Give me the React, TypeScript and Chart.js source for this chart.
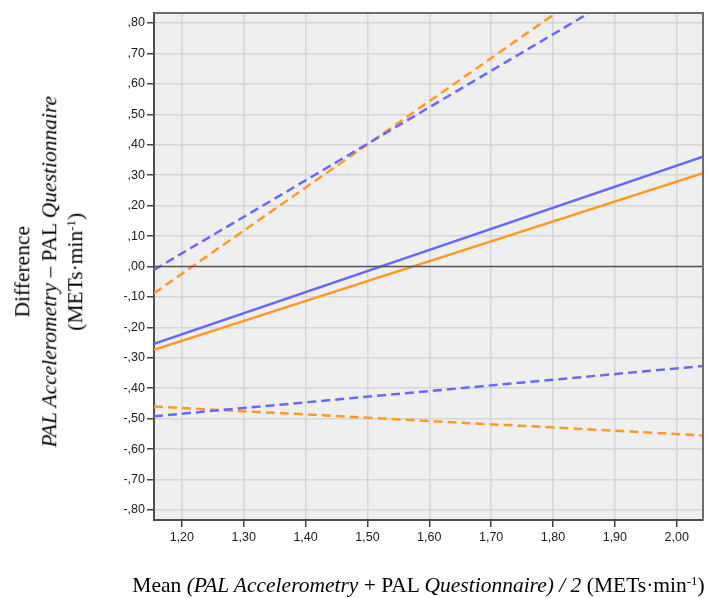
import React, { useEffect, useRef } from "react";
import { Chart, registerables } from "chart.js";

Chart.register(...registerables);

// Axis ranges and tick positions
const xRange = [1.155, 2.0425];
const yRange = [-0.833, 0.833];
const xTicks = [1.2, 1.3, 1.4, 1.5, 1.6, 1.7, 1.8, 1.9, 2.0];
const yTicks = [-0.8, -0.7, -0.6, -0.5, -0.4, -0.3, -0.2, -0.1, 0, 0.1, 0.2, 0.3, 0.4, 0.5, 0.6, 0.7, 0.8];

// Regression lines are evaluated at both ends of the x range
const lineX = [1.155, 2.0425];
const zeroLine = [0, 0];
const blueMean = [-0.254, 0.361];
const blueUpper = [-0.011, 1.054];
const blueLower = [-0.492, -0.327];
const orangeMean = [-0.274, 0.307];
const orangeUpper = [-0.088, 1.17];
const orangeLower = [-0.46, -0.555];

const BLUE = "#6868ff";
const ORANGE = "#ff9a26";
const DASH = [9, 5];

// "0,80" -> ",80", "-0,10" -> "-,10"
const fmt = (v: number) => {
  const s = Math.abs(v).toFixed(2).replace(".", ",");
  const t = s.startsWith("0") ? s.slice(1) : s;
  return (v < -1e-9 ? "-" : "") + t;
};

const pts = (ys: number[]) => ys.map((y, i) => ({ x: lineX[i], y }));

const plotFrame = {
  id: "plotFrame",
  beforeDraw(chart: any) {
    const { ctx, chartArea: a } = chart;
    ctx.save();
    ctx.fillStyle = "#efefef";
    ctx.fillRect(a.left, a.top, a.right - a.left, a.bottom - a.top);
    ctx.restore();
  },
  afterDraw(chart: any) {
    const { ctx, chartArea: a } = chart;
    ctx.save();
    ctx.strokeStyle = "#6e6e6e";
    ctx.lineWidth = 2;
    ctx.beginPath();
    ctx.moveTo(a.left, a.top);
    ctx.lineTo(a.right, a.top);
    ctx.lineTo(a.right, a.bottom);
    ctx.stroke();
    ctx.restore();
  },
};

const tickFont = { family: '"Liberation Sans", Arial, sans-serif', size: 12.5 };
const serif = '"Liberation Serif", "Times New Roman", serif';

export default function App() {
  const ref = useRef<HTMLCanvasElement | null>(null);

  useEffect(() => {
    if (!ref.current) return;
    const mk = (data: number[], color: string, dashed: boolean, width = 2.5) => ({
      data: pts(data),
      borderColor: color,
      borderWidth: width,
      borderDash: dashed ? DASH : [],
      pointRadius: 0,
      fill: false,
      tension: 0,
    });
    const chart = new Chart(ref.current, {
      type: "line",
      data: {
        datasets: [
          mk(zeroLine, "#555555", false, 1.5),
          mk(blueUpper, BLUE, true),
          mk(orangeUpper, ORANGE, true),
          mk(blueLower, BLUE, true),
          mk(orangeLower, ORANGE, true),
          mk(blueMean, BLUE, false),
          mk(orangeMean, ORANGE, false),
        ] as any,
      },
      options: {
        responsive: false,
        devicePixelRatio: 1,
        animation: false,
        layout: { padding: { left: 0, top: 13, right: 6, bottom: 0 } },
        plugins: { legend: { display: false }, tooltip: { enabled: false } },
        scales: {
          x: {
            type: "linear",
            min: xRange[0],
            max: xRange[1],
            afterBuildTicks: (s: any) => {
              s.ticks = xTicks.map((value) => ({ value }));
            },
            afterFit: (s: any) => {
              s.height = 78;
            },
            ticks: {
              callback: (v: any) => fmt(Number(v)),
              font: tickFont,
              color: "#1a1a1a",
              padding: 3,
              maxRotation: 0,
              autoSkip: false,
            },
            grid: {
              color: "#d6d6d6",
              lineWidth: 1.5,
              tickLength: 7,
              tickColor: "#444",
              tickWidth: 1.5,
            },
            border: { color: "#4f4f4f", width: 2 },
          },
          y: {
            type: "linear",
            min: yRange[0],
            max: yRange[1],
            afterBuildTicks: (s: any) => {
              s.ticks = yTicks.map((value) => ({ value }));
            },
            afterFit: (s: any) => {
              s.width = 154;
            },
            ticks: {
              callback: (v: any) => fmt(Number(v)),
              font: tickFont,
              color: "#1a1a1a",
              padding: 2,
              autoSkip: false,
            },
            grid: {
              color: "#d6d6d6",
              lineWidth: 1.5,
              tickLength: 7,
              tickColor: "#444",
              tickWidth: 1.5,
            },
            border: { color: "#4f4f4f", width: 2 },
          },
        },
      } as any,
      plugins: [plotFrame],
    });
    return () => chart.destroy();
  }, []);

  const sup = (
    <sup style={{ fontSize: "0.6em", lineHeight: 0, verticalAlign: "0.55em" }}>-1</sup>
  );

  return (
    <div
      style={{
        position: "fixed",
        left: 0,
        top: 0,
        width: 709,
        height: 598,
        overflow: "hidden",
        background: "#fff",
      }}
    >
      <canvas ref={ref} width={709} height={598} style={{ display: "block" }} />
      <div
        style={{
          position: "absolute",
          left: -151.5,
          top: 231.75,
          width: 400,
          height: 79.5,
          transform: "rotate(-90deg)",
          transformOrigin: "50% 50%",
          fontFamily: serif,
          fontSize: 21.5,
          lineHeight: "26.5px",
          textAlign: "center",
          whiteSpace: "nowrap",
          color: "#000",
        }}
      >
        <div>Difference</div>
        <div>
          <i>PAL Accelerometry</i> – PAL <i>Questionnaire</i>
        </div>
        <div>(METs·min{sup})</div>
      </div>
      <div
        style={{
          position: "absolute",
          left: 0,
          top: 573,
          width: 837,
          fontFamily: serif,
          fontSize: 21.5,
          lineHeight: "24px",
          textAlign: "center",
          whiteSpace: "nowrap",
          color: "#000",
        }}
      >
        Mean <i>(PAL Accelerometry</i> + PAL <i>Questionnaire) / 2</i> (METs·min{sup})
      </div>
    </div>
  );
}
